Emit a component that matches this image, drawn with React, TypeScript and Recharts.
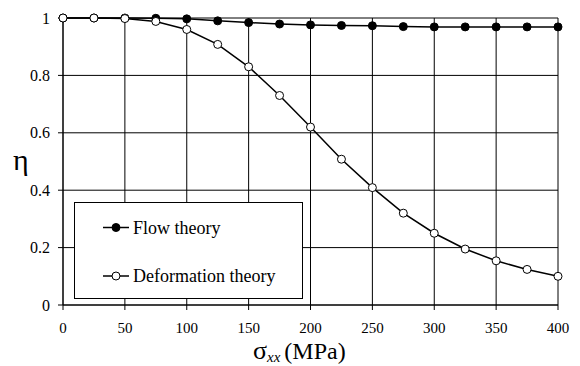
import React from "react";
import { LineChart, Line, XAxis, YAxis, CartesianGrid } from "recharts";

const stress = [0, 25, 50, 75, 100, 125, 150, 175, 200, 225, 250, 275, 300, 325, 350, 375, 400];
const flowTheory = [1, 1, 1, 0.999, 0.997, 0.99, 0.984, 0.979, 0.976, 0.974, 0.973, 0.97, 0.969, 0.969, 0.969, 0.969, 0.969];
const deformationTheory = [1, 1, 0.998, 0.988, 0.96, 0.908, 0.83, 0.73, 0.62, 0.508, 0.409, 0.32, 0.25, 0.195, 0.154, 0.124, 0.1];
const xTicks = [0, 50, 100, 150, 200, 250, 300, 350, 400];
const yTicks = [0, 0.2, 0.4, 0.6, 0.8, 1];
const seriesNames = ["Flow theory", "Deformation theory"];

const data = stress.map((s, i) => ({ s, flow: flowTheory[i], deform: deformationTheory[i] }));

const FONT = "Liberation Serif, Times New Roman, serif";

const LegendBox = () => (
  <div style={{ position: "absolute", left: 74, top: 202, width: 229, height: 97, border: "1px solid #000", boxSizing: "border-box", background: "#fff" }}>
    <svg width={229} height={97} style={{ position: "absolute", left: -1, top: -1 }}>
      <line x1={29} x2={55} y1={25.5} y2={25.5} stroke="#000" strokeWidth={1.5} />
      <circle cx={42} cy={25.5} r={4} fill="#000" stroke="#000" />
      <text x={59} y={31.5} style={{ fontFamily: FONT, fontSize: 18 }} fill="#000">{seriesNames[0]}</text>
      <line x1={29} x2={55} y1={74} y2={74} stroke="#000" strokeWidth={1.5} />
      <circle cx={42} cy={74} r={4} fill="#fff" stroke="#000" />
      <text x={59} y={80} style={{ fontFamily: FONT, fontSize: 18 }} fill="#000">{seriesNames[1]}</text>
    </svg>
  </div>
);

const XLabel = () => (
  <text x={253} y={359} style={{ fontFamily: FONT }} fill="#000">
    <tspan fontSize={26}>σ</tspan>
    <tspan fontSize={15} fontStyle="italic" dy={3}>xx</tspan>
    <tspan fontSize={24} dy={-3} dx={4}>(MPa)</tspan>
  </text>
);

export default function App() {
  return (
    <div style={{ position: "absolute", left: 0, top: 0, width: 580, height: 366, background: "#fff", fontFamily: FONT }}>
      <LineChart width={580} height={366} data={data} margin={{ top: 18, right: 22, left: 0, bottom: 0 }} style={{ fontFamily: FONT }}>
        <CartesianGrid stroke="#000" strokeWidth={1} />
        <XAxis
          dataKey="s"
          type="number"
          domain={[0, 400]}
          ticks={xTicks}
          height={61}
          stroke="#000"
          tickSize={5}
          tick={{ fill: "#000", style: { fontFamily: FONT }, fontSize: 15 }}
          tickMargin={12}
          label={<XLabel />}
        />
        <YAxis
          type="number"
          domain={[0, 1]}
          ticks={yTicks}
          width={63}
          stroke="#000"
          tickSize={5}
          tick={{ fill: "#000", style: { fontFamily: FONT }, fontSize: 16 }}
          tickMargin={8}
          label={{ value: "η", position: "insideLeft", offset: 13, style: { fontFamily: FONT, fontSize: 30, fill: "#000" }, dy: -2 }}
        />
        <Line dataKey="flow" name={seriesNames[0]} stroke="#000" strokeWidth={1.5} isAnimationActive={false}
          dot={{ r: 4, fill: "#000", stroke: "#000", strokeWidth: 1 }} />
        <Line dataKey="deform" name={seriesNames[1]} stroke="#000" strokeWidth={1.5} isAnimationActive={false}
          dot={{ r: 4, fill: "#fff", stroke: "#000", strokeWidth: 1 }} />
      </LineChart>
      <LegendBox />
    </div>
  );
}
